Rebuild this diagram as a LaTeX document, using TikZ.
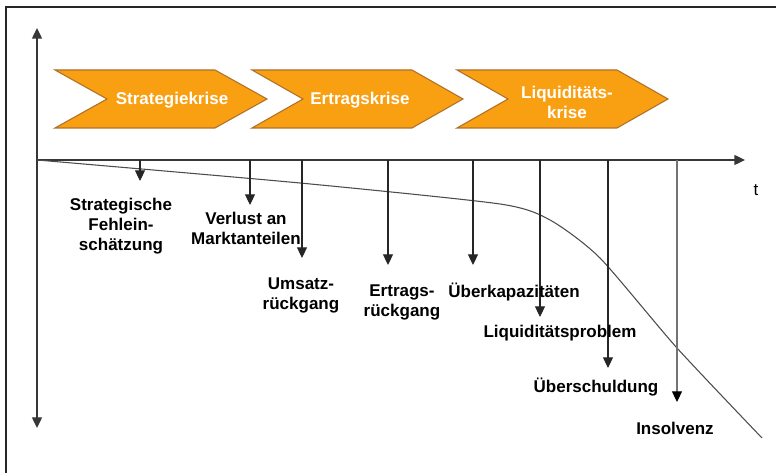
\documentclass[tikz,border=0pt]{standalone}
\usepackage{fontspec}
\setmainfont{Liberation Sans}
\usetikzlibrary{arrows.meta}
\definecolor{krise}{RGB}{249,160,18}
\definecolor{krisedraw}{RGB}{176,112,40}
\definecolor{achse}{RGB}{55,55,55}

\begin{document}
\begin{tikzpicture}[x=0.75pt,y=-0.75pt,>={Triangle[width=7.5pt,length=8pt]},
  font=\fontsize{12.75}{15}\selectfont\bfseries]
\tikzstyle{phase}=[fill=krise,draw=krisedraw,line width=0.8pt]
\tikzstyle{phasetext}=[text=white,align=center,inner sep=0pt]
\tikzstyle{ursache}=[align=center,inner sep=0pt]
\tikzstyle{achse}=[draw=achse,line width=1pt]
\tikzstyle{pfeil}=[draw=black!85,line width=0.8pt]

\useasboundingbox (0,0) rectangle (776,473);
\draw[line width=1.5pt,black!85] (6,473) -- (6,7) -- (776,7);

% Krisenphasen
\filldraw[phase] (55,70) -- (215,70) -- (267,99) -- (215,128) -- (55,128) -- (107,99) -- cycle;
\filldraw[phase] (252,70) -- (412,70) -- (463,99) -- (412,128) -- (252,128) -- (303,99) -- cycle;
\filldraw[phase] (457,70) -- (617,70) -- (668,99) -- (617,128) -- (457,128) -- (508,99) -- cycle;

\node[phasetext] (SK) at (172,100) {Strategiekrise};
\node[phasetext] (EK) at (360,100) {Ertragskrise};
\node[phasetext] (LK) at (567,102) {Liquiditäts-\\krise};

% Achsen
\coordinate (O) at (37,160);
\coordinate (Yo) at (37,28);
\coordinate (Yu) at (37,428);
\coordinate (X) at (745,160);
\node[font=\fontsize{12.75}{15}\selectfont] (t) at (756,190) {t};

\draw[->,achse] (O) -- (Yo);
\draw[->,achse] (O) -- (Yu);
\draw[->,achse] (O) -- (X);

% Verlauf
\draw[line width=0.8pt,black!70] plot[smooth,tension=0.4] coordinates
  {(37,160) (300,183) (500,204) (550,220) (600,258) (677,348) (762,438)};

% Ursachen
\coordinate (a1) at (140,160); \coordinate (b1) at (140,181);
\coordinate (a2) at (250,160); \coordinate (b2) at (250,205);
\coordinate (a3) at (302,160); \coordinate (b3) at (302,258);
\coordinate (a4) at (388,160); \coordinate (b4) at (388,265);
\coordinate (a5) at (473,160); \coordinate (b5) at (473,265);
\coordinate (a6) at (540,160); \coordinate (b6) at (540,317);
\coordinate (a7) at (608,160); \coordinate (b7) at (608,368);
\coordinate (a8) at (677,160); \coordinate (b8) at (677,402);

\draw[->,pfeil] (a1) -- (b1);
\draw[->,pfeil] (a2) -- (b2);
\draw[->,pfeil] (a3) -- (b3);
\draw[->,pfeil] (a4) -- (b4);
\draw[->,pfeil] (a5) -- (b5);
\draw[->,pfeil] (a6) -- (b6);
\draw[->,pfeil] (a7) -- (b7);
\draw[-{Triangle[width=7.5pt,length=8pt,color=black]},pfeil,draw=black!55] (a8) -- (b8);

\node[ursache] (SF) at (121,226) {Strategische\\Fehlein-\\schätzung};
\node[ursache] (VM) at (246,228) {Verlust an\\Marktanteilen};
\node[ursache] (UR) at (301,295) {Umsatz-\\rückgang};
\node[ursache] (ER) at (402,302) {Ertrags-\\rückgang};
\node[ursache] (UK) at (514,292) {Überkapazitäten};
\node[ursache] (LP) at (560,333) {Liquiditätsproblem};
\node[ursache] (US) at (596,387) {Überschuldung};
\node[ursache] (IN) at (675,428) {Insolvenz};

\end{tikzpicture}
\end{document}
